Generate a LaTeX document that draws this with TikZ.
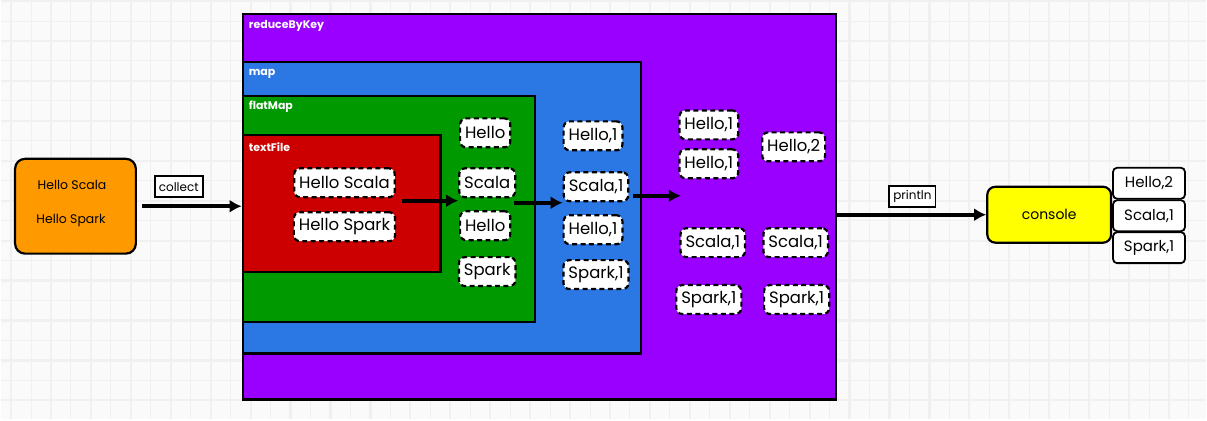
\documentclass[tikz,border=0pt]{standalone}
\usepackage{fontspec}
\setmainfont{Poppins}
\usetikzlibrary{arrows.meta,positioning}
\definecolor{paper}{HTML}{FAFAFA}
\definecolor{gridln}{HTML}{F0F0F0}
\definecolor{cSrc}{HTML}{FF9900}
\definecolor{cReduce}{HTML}{9900FF}
\definecolor{cMap}{HTML}{2B78E4}
\definecolor{cFlat}{HTML}{009900}
\definecolor{cText}{HTML}{CC0000}
\definecolor{cOut}{HTML}{FFFF00}

\begin{document}
\begin{tikzpicture}[
  x=1pt, y=-1pt,
  font=\fontsize{14}{16}\selectfont,
  area/.style={draw=black, line width=2.2pt, anchor=north west, inner sep=0pt},
  tag/.style={text=white, font=\fontsize{11}{13}\selectfont\bfseries, anchor=west, inner sep=0pt},
  word/.style={draw=black, fill=white, dash pattern=on 5pt off 3.5pt, line width=2.2pt,
               rounded corners=6pt, minimum height=29pt, inner xsep=5pt,
               font=\fontsize{16.5}{18}\selectfont},
  res/.style={draw=black, fill=white, line width=1.8pt, rounded corners=4pt,
              minimum width=72pt, minimum height=31pt, font=\fontsize{15}{17}\selectfont},
  lbl/.style={draw=black, fill=white, line width=1.8pt, font=\fontsize{12}{14}\selectfont,
              inner xsep=4pt, minimum height=21pt},
  flow/.style={-{Latex[length=12pt,width=13pt]}, line width=3.6pt},
]
% paper and grid
\fill[paper] (0,0) rectangle (1207,419);
\foreach \x in {30,70,...,1207} \draw[gridln, line width=1pt] (\x,0) -- (\x,419);
\foreach \y in {20,60,...,419} \draw[gridln, line width=1pt] (0,\y) -- (1207,\y);
\foreach \x in {10,50,...,1207} \draw[gridln, line width=2.2pt] (\x,0) -- (\x,419);
\foreach \y in {0,40,...,419} \draw[gridln, line width=2.2pt] (0,\y) -- (1207,\y);
\useasboundingbox (0,0) rectangle (1207,419);

% source
\node[draw=black, fill=cSrc, line width=2.2pt, rounded corners=10pt,
      minimum width=121pt, minimum height=95pt] (input) at (74.5,205.5) {};
\node[font=\fontsize{12.5}{14}\selectfont] (inScala) at (71,184) {Hello Scala};
\node[font=\fontsize{12.5}{14}\selectfont] (inSpark) at (70,220) {Hello Spark};

% nested stages
\node[area, fill=cReduce, minimum width=594pt, minimum height=386pt] (reduce) at (241,12) {};
\node[area, fill=cMap, minimum width=399pt, minimum height=292pt] (map) at (241,60) {};
\node[area, fill=cFlat, minimum width=293pt, minimum height=226pt] (flat) at (241,94) {};
\node[area, fill=cText, minimum width=198pt, minimum height=137pt] (tf) at (241,133) {};
\node[tag] (lReduce) at (248,25) {reduceByKey};
\node[tag] (lMap) at (248,73) {map};
\node[tag] (lFlat) at (248,106) {flatMap};
\node[tag] (lText) at (248,146) {textFile};

% textFile lines
\node[word] (tScala) at (344,182) {Hello Scala};
\node[word] (tSpark) at (344,226) {Hello Spark};

% flatMap words
\node[word] (gHello) at (485,132) {Hello};
\node[word] (gScala) at (487,182) {Scala};
\node[word] (gHello2) at (485,225) {Hello};
\node[word] (gSpark) at (487,271) {Spark};

% map pairs
\node[word] (bHello) at (593,135) {Hello,1};
\node[word] (bScala) at (596,186) {Scala,1};
\node[word] (bHello2) at (593,229) {Hello,1};
\node[word] (bSpark) at (596,274) {Spark,1};

% reduceByKey groups
\node[word] (pHello) at (709,124) {Hello,1};
\node[word] (pHello2) at (709,163) {Hello,1};
\node[word] (pHelloSum) at (794,146) {Hello,2};
\node[word] (pScala) at (713,242) {Scala,1};
\node[word] (pScalaSum) at (796,242) {Scala,1};
\node[word] (pSpark) at (709,299) {Spark,1};
\node[word] (pSparkSum) at (797,299) {Spark,1};

% output
\node[draw=black, fill=cOut, line width=2.2pt, rounded corners=8pt,
      minimum width=124pt, minimum height=56pt] (console) at (1050,214) {console};
\node[res] (oHello) at (1150,182.5) {Hello,2};
\node[res] (oScala) at (1150,215) {Scala,1};
\node[res] (oSpark) at (1150,247) {Spark,1};

% arrows
\draw[flow] ([xshift=5pt]input.east) -- (input.east -| reduce.west);
\node[lbl] (collect) at (178,186) {collect};
\coordinate (s1) at (402,200);
\draw[flow] (s1) -- (s1 -| gScala.west);
\coordinate (s2) at (514,202);
\draw[flow] (s2) -- (s2 -| bScala.west);
\coordinate (s3) at (633,195);
\coordinate (e3) at (681,195);
\draw[flow] (s3) -- (e3);
\draw[flow] (reduce.east |- console) -- (console.west);
\node[lbl] (println) at (913,196) {println};
\end{tikzpicture}
\end{document}
